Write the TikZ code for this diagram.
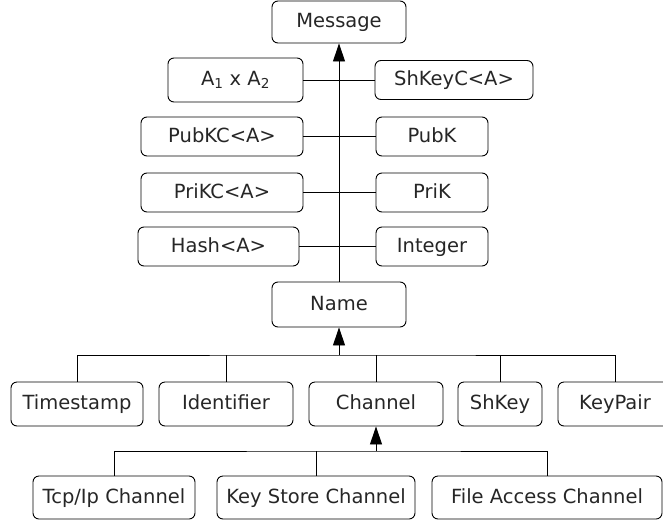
\documentclass[tikz,border=0pt]{standalone}
\usepackage{fontspec}
\setmainfont{DejaVu Sans}
\usetikzlibrary{arrows.meta}
\begin{document}
\begin{tikzpicture}[x=1pt,y=-1pt,
  box/.style={draw, line width=0.9pt, rounded corners=6pt, inner sep=0pt,
    font=\fontsize{19.5}{22}\selectfont, text=black!85,
    text height=14.5pt, text depth=3.5pt},
  link/.style={line width=0.9pt},
  inh/.style={line width=0.9pt, -{Triangle[width=12pt,length=18pt]}}]
\useasboundingbox (0,0) rectangle (663,525);
\clip (0,0) rectangle (663,525);
% top part
\node[box, minimum width=134pt, minimum height=42pt] (msg) at (339,22) {Message};
\node[box, minimum width=135pt, minimum height=44pt] (prod) at (235.5,80) {A\textsubscript{1} x A\textsubscript{2}};
\node[box, minimum width=158pt, minimum height=39pt] (shkc) at (454,80) {ShKeyC<A>};
\node[box, minimum width=162pt, minimum height=39pt] (pubkc) at (222,136.5) {PubKC<A>};
\node[box, minimum width=112pt, minimum height=39pt] (pubk) at (432,136.5) {PubK};
\node[box, minimum width=162pt, minimum height=39pt] (prikc) at (222,192.5) {PriKC<A>};
\node[box, minimum width=112pt, minimum height=39pt] (prik) at (432,192.5) {PriK};
\node[box, minimum width=161pt, minimum height=39pt] (hash) at (218.5,246.5) {Hash<A>};
\node[box, minimum width=112pt, minimum height=39pt] (int) at (432,246.5) {Integer};
\node[box, minimum width=134pt, minimum height=45pt] (name) at (339,304.5) {Name};
% middle row
\node[box, minimum width=132pt, minimum height=44pt] (ts) at (77,404) {Timestamp};
\node[box, minimum width=134pt, minimum height=44pt] (id) at (226,404) {Identifier};
\node[box, minimum width=134pt, minimum height=44pt] (ch) at (376,404) {Channel};
\node[box, minimum width=84pt, minimum height=44pt] (shk) at (500,404) {ShKey};
\node[box, minimum width=114pt, minimum height=44pt] (kp) at (615,404) {KeyPair};
% bottom row
\node[box, minimum width=162pt, minimum height=43pt] (tcp) at (114,497.5) {Tcp/Ip Channel};
\node[box, minimum width=198pt, minimum height=43pt] (ks) at (316,497.5) {Key Store Channel};
\node[box, minimum width=230pt, minimum height=43pt] (fa) at (547,497.5) {File Access Channel};
% connectors top
\draw[inh] (name.north) -- (msg.south);
\draw[link] (prod.east) -- (shkc.west);
\draw[link] (pubkc.east) -- (pubk.west);
\draw[link] (prikc.east) -- (prik.west);
\draw[link] (hash.east) -- (int.west);
% Name children
\coordinate (b1) at (339,355);
\draw[inh] (b1) -- (name.south);
\draw[link] (ts.north) |- (b1) -| (kp.north);
\draw[link] (id.north) -- (id.north |- b1);
\draw[link] (ch.north) -- (ch.north |- b1);
\draw[link] (shk.north) -- (shk.north |- b1);
% Channel children
\coordinate (b2) at (376,451);
\draw[inh] (b2) -- (ch.south);
\draw[link] (tcp.north) |- (b2) -| (fa.north);
\draw[link] (ks.north) -- (ks.north |- b2);
\end{tikzpicture}
\end{document}
